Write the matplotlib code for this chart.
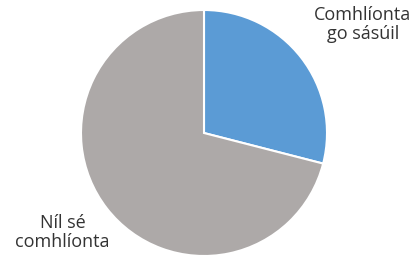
import matplotlib.pyplot as plt

# data
labels = ["Comhlíonta\ngo sásúil", "Níl sé\ncomhlíonta"]
values = [29, 71]
colors = ["#5B9BD5", "#ADA9A8"]

# label positions (axes data units, radius = 1)
label_pos = [(1.29, 0.88), (-1.15, -0.81)]

fig = plt.figure(figsize=(4.14, 2.62), dpi=100)
ax = fig.add_axes([81 / 414, 6 / 262, 246 / 414, 246 / 262])

ax.pie(values, colors=colors, startangle=90, counterclock=False,
       wedgeprops=dict(edgecolor="white", linewidth=1.5))

for txt, (x, y) in zip(labels, label_pos):
    ax.text(x, y, txt, ha="center", va="center", fontsize=13,
            family="Open Sans", color="#333333", linespacing=1.1)

ax.set_xlim(-1, 1)
ax.set_ylim(-1, 1)
ax.set_aspect("equal")
ax.axis("off")

fig.savefig("out.png", dpi=100)
